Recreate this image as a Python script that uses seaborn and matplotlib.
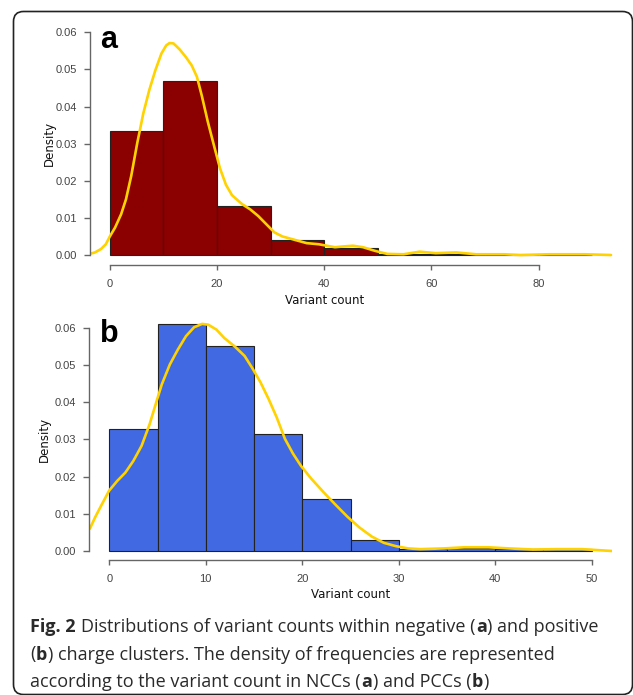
import matplotlib
matplotlib.use("Agg")
import matplotlib.pyplot as plt
import seaborn as sns
import numpy as np
import pandas as pd
from matplotlib.patches import FancyBboxPatch

# ---------------- data ----------------
# Panel a (NCCs): histogram bins (width 10) and density heights
a_bin_edges = [0, 10, 20, 30, 40, 50, 60, 70, 80, 90]
a_heights = [0.0334, 0.0470, 0.0132, 0.0041, 0.0019, 0.0003, 0.0004, 0.0001, 0.0001]
# Panel a density curve
a_kde_x = [-3.76, -2.78, -1.66, -0.75, 0.0, 0.98, 2.11, 3.01, 3.99, 5.12, 6.25, 7.37, 8.50,
           9.63, 10.53, 11.14, 11.89, 13.02, 14.15, 15.27, 16.25, 17.16, 18.28, 19.41, 20.54,
           21.67, 22.80, 24.68, 26.19, 27.69, 29.19, 30.70, 32.20, 34.46, 36.72, 38.98, 40.48,
           41.99, 43.49, 45.37, 47.25, 49.51, 51.77, 54.8, 57.8, 60.8, 64.6, 68.3, 73.6, 76.6,
           81.9, 88.6, 93.5]
a_kde_y = [0.0003, 0.0007, 0.0016, 0.0029, 0.0050, 0.0074, 0.0110, 0.0150, 0.0213, 0.0302,
           0.0382, 0.0445, 0.0498, 0.0543, 0.0565, 0.0571, 0.0570, 0.0554, 0.0534, 0.0511,
           0.0480, 0.0429, 0.0359, 0.0296, 0.0234, 0.0189, 0.0161, 0.0137, 0.0123, 0.0105,
           0.0083, 0.0061, 0.0050, 0.0041, 0.0032, 0.0029, 0.0025, 0.0021, 0.0023, 0.0025,
           0.0021, 0.0011, 0.0003, 0.0002, 0.0009, 0.0005, 0.0007, 0.0002, 0.0002, 0.0000,
           0.0002, 0.0002, 0.0000]

# Panel b (PCCs): histogram bins (width 5) and density heights
b_bin_edges = [0, 5, 10, 15, 20, 25, 30, 35, 40, 45, 50]
b_heights = [0.0328, 0.0612, 0.0551, 0.0314, 0.0139, 0.0030, 0.0005, 0.0008, 0.0005, 0.0005]
# Panel b density curve
b_kde_x = [-2.01, -1.46, -0.84, 0.0, 0.84, 1.67, 2.51, 3.35, 4.18, 4.81, 5.44, 6.28, 7.11,
           7.95, 8.79, 9.62, 10.25, 11.09, 11.92, 12.97, 14.02, 14.85, 15.69, 16.53, 17.36,
           18.20, 19.04, 19.87, 20.92, 22.18, 23.43, 24.69, 25.94, 27.20, 28.45, 29.71,
           30.96, 32.22, 34.7, 36.8, 39.3, 41.4, 43.9, 46.4, 49.0, 52.1]
b_kde_y = [0.0060, 0.0091, 0.0122, 0.0163, 0.0189, 0.0211, 0.0243, 0.0283, 0.0341, 0.0395,
           0.0448, 0.0502, 0.0542, 0.0578, 0.0602, 0.0611, 0.0609, 0.0596, 0.0573, 0.0551,
           0.0525, 0.0491, 0.0453, 0.0408, 0.0359, 0.0302, 0.0262, 0.0229, 0.0195, 0.0159,
           0.0125, 0.0092, 0.0063, 0.0039, 0.0022, 0.0013, 0.0007, 0.0005, 0.0007, 0.0010,
           0.0010, 0.0007, 0.0004, 0.0005, 0.0005, 0.0000]

y_ticks = [0.00, 0.01, 0.02, 0.03, 0.04, 0.05, 0.06]
a_x_ticks = [0, 20, 40, 60, 80]
b_x_ticks = [0, 10, 20, 30, 40, 50]
x_label = "Variant count"
y_label = "Density"
panel_letters = ["a", "b"]
caption_lines = [
    [("Fig. 2", True, False), ("Distributions of variant counts within negative (", False, True),
     ("a", True, False), (") and positive", False, False)],
    [("(", False, False), ("b", True, False),
     (") charge clusters. The density of frequencies are represented", False, False)],
    [("according to the variant count in NCCs (", False, False), ("a", True, False),
     (") and PCCs (", False, False), ("b", True, False), (")", False, False)],
]

# ---------------- style ----------------
sns.set_theme(style="white")
plt.rcParams["font.family"] = ["DejaVu Sans"]

W, H = 633, 695
fig = plt.figure(figsize=(W / 100, H / 100), dpi=100)
fig.patch.set_facecolor("white")

KDE_COLOR = "#FFD200"
TICK_FONT = dict(family="Liberation Sans", size=8, color="#444444")


def make_panel(rect, edges, heights, kx, ky, color, xlim, ylim, xticks, xlabel_x, xlabel_y,
               ylabel_x, ylabel_y):
    ax = fig.add_axes(rect)
    centers = [(edges[i] + edges[i + 1]) / 2 for i in range(len(heights))]
    dfh = pd.DataFrame({"x": centers, "w": heights})
    sns.histplot(data=dfh, x="x", weights="w", bins=edges, stat="count", color=color,
                 alpha=1, edgecolor="#222222", linewidth=0.8, ax=ax)
    dfk = pd.DataFrame({"x": kx, "y": ky})
    sns.lineplot(data=dfk, x="x", y="y", color=KDE_COLOR, linewidth=1.9, ax=ax,
                 solid_joinstyle="round", solid_capstyle="round")
    ax.set_xlim(*xlim)
    ax.set_ylim(*ylim)
    ax.set_facecolor("none")
    for s in ["top", "right"]:
        ax.spines[s].set_visible(False)
    for s in ["left", "bottom"]:
        ax.spines[s].set_color("#666666")
        ax.spines[s].set_linewidth(1.0)
    ax.spines["left"].set_bounds(0, 0.06)
    ax.spines["bottom"].set_bounds(xticks[0], xticks[-1])
    ax.set_yticks(y_ticks)
    ax.set_yticklabels([f"{v:.2f}" for v in y_ticks], **TICK_FONT)
    ax.set_xticks(xticks)
    ax.set_xticklabels([str(v) for v in xticks], **TICK_FONT)
    ax.tick_params(axis="y", direction="out", length=4.3, width=1.0, color="#666666", pad=5,
                   left=True)
    ax.tick_params(axis="x", direction="out", length=3.6, width=1.0, color="#666666", pad=6.5,
                   bottom=True)
    ax.set_xlabel(x_label, fontsize=8.5, color="#111111", va="center")
    ax.xaxis.set_label_coords(xlabel_x, xlabel_y)
    ax.set_ylabel(y_label, fontsize=8.5, color="#111111", va="center")
    ax.yaxis.set_label_coords(ylabel_x, ylabel_y)
    return ax


# Panel a
make_panel([90 / W, (H - 265) / H, 522.6 / W, 235 / H], a_bin_edges, a_heights,
           a_kde_x, a_kde_y, "#8B0000", (-3.7, 93.8), (-0.00269, 0.06062), a_x_ticks,
           (40 + 3.7) / 97.5, -35 / 235, (49 - 90) / 522.6, (0.03 + 0.00269) / 0.06331)
# Panel b
make_panel([89 / W, (H - 560) / H, 523 / W, 240 / H], b_bin_edges, b_heights,
           b_kde_x, b_kde_y, "#4169E1", (-2.1, 52.1), (-0.00242, 0.06215), b_x_ticks,
           (25 + 2.1) / 54.2, -35 / 240, (44 - 89) / 523, (0.03 + 0.00242) / 0.06457)

# panel letters
fig.text(100 / W, (H - 48) / H, panel_letters[0], family="Liberation Sans", weight="bold",
         size=22, va="baseline", ha="left", color="black")
fig.text(100 / W, (H - 342) / H, panel_letters[1], family="Liberation Sans", weight="bold",
         size=22, va="baseline", ha="left", color="black")

# frame
frame = FancyBboxPatch((13.5 / 100, (H - 694.5) / 100), (632.5 - 13.5) / 100, (694.5 - 11.5) / 100,
                       boxstyle="round,pad=0,rounding_size=0.1", transform=fig.dpi_scale_trans,
                       facecolor="none", edgecolor="#222222", linewidth=1.2, clip_on=False)
fig.patches.append(frame)

# caption
fig.canvas.draw()
renderer = fig.canvas.get_renderer()
CAP_SIZE = 13.0
CAP_COLOR = "#2a2a2a"
probe1 = fig.text(0, 0, "n n", family="Open Sans", size=CAP_SIZE)
probe2 = fig.text(0, 0, "nn", family="Open Sans", size=CAP_SIZE)
space_w = (probe1.get_window_extent(renderer).width - probe2.get_window_extent(renderer).width)
probe1.remove()
probe2.remove()

baselines = [631.7, 659.5, 687.0]
for line, yb in zip(caption_lines, baselines):
    x = 30.0
    for txt, bold, gap in line:
        if gap:
            x += space_w
        t = fig.text(x / W, (H - yb) / H, txt, family="Open Sans",
                     weight="bold" if bold else "normal", size=CAP_SIZE, color=CAP_COLOR,
                     va="baseline", ha="left")
        bb = t.get_window_extent(renderer)
        x = bb.x1 + 0.5

fig.savefig("out.png", dpi=100, facecolor="white")
